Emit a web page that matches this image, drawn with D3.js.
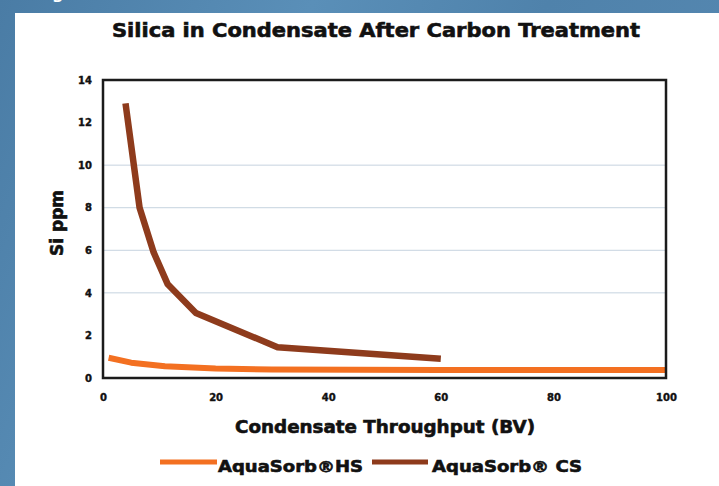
<!DOCTYPE html>
<html>
<head>
<meta charset="utf-8">
<script src="https://cdn.jsdelivr.net/npm/d3@7"></script>
<style>
  html, body { margin: 0; padding: 0; background: #fff; }
  svg { display: block; }
  text { font-family: "DejaVu Sans", sans-serif; font-weight: bold; fill: #111; }
  .heavy { stroke: #111; stroke-width: 0.6px; }
</style>
</head>
<body>
<svg id="chart" width="719" height="486"></svg>
<script>
// data
const hsX = [1, 5, 11, 20, 30, 60, 100];
const hsY = [0.95, 0.72, 0.55, 0.45, 0.40, 0.38, 0.38];
const csX = [4, 6.5, 9, 11.5, 16.5, 31, 60];
const csY = [12.9, 8.0, 5.9, 4.4, 3.05, 1.45, 0.9];
const xTicks = [0, 20, 40, 60, 80, 100];
const yTicks = [0, 2, 4, 6, 8, 10, 12, 14];
const gridTicks = [4, 6, 8, 10];
const seriesNames = ['AquaSorb®HS', 'AquaSorb® CS'];

const svg = d3.select('#chart');
const width = +svg.attr('width');
const height = +svg.attr('height');

// blue page background with a white panel
const defs = svg.append('defs');
const grad = defs.append('linearGradient').attr('id', 'bg')
  .attr('x1', 0).attr('y1', 0).attr('x2', 1).attr('y2', 0.3);
grad.append('stop').attr('offset', '0%').attr('stop-color', '#4a7ca5');
grad.append('stop').attr('offset', '40%').attr('stop-color', '#5a8fb8');
grad.append('stop').attr('offset', '70%').attr('stop-color', '#4f82ab');
grad.append('stop').attr('offset', '100%').attr('stop-color', '#5587b0');
svg.append('rect').attr('width', width).attr('height', height).attr('fill', 'url(#bg)');
svg.append('text').attr('x', 52).attr('y', -1).style('fill', '#fff')
  .style('font-size', '16px').text('g');
svg.append('rect').attr('x', 15).attr('y', 13)
  .attr('width', width - 15).attr('height', height - 13).attr('fill', '#fff');

const margin = { top: 80, left: 103, right: 53, bottom: 108 };
const innerWidth = width - margin.left - margin.right;
const innerHeight = height - margin.top - margin.bottom;

const xScale = d3.scaleLinear().domain([0, 100]).range([0, innerWidth]);
const yScale = d3.scaleLinear().domain([0, 14]).range([innerHeight, 0]);

const g = svg.append('g').attr('transform', `translate(${margin.left}, ${margin.top})`);

// gridlines
g.selectAll('.grid').data(gridTicks).enter().append('line')
  .attr('x1', 0).attr('x2', innerWidth)
  .attr('y1', d => yScale(d)).attr('y2', d => yScale(d))
  .attr('stroke', '#c6d3df').attr('stroke-width', 1);

const xAxisG = g.append('g')
  .attr('transform', `translate(0, ${innerHeight})`)
  .call(d3.axisBottom(xScale).tickValues(xTicks).tickSize(0).tickPadding(16));
xAxisG.select('.domain').remove();
xAxisG.selectAll('text').attr('class', 'heavy')
  .style('font-size', '10px').style('fill', '#111').style('stroke-width', '0.4px');

const yAxisG = g.append('g')
  .call(d3.axisLeft(yScale).tickValues(yTicks).tickSize(0).tickPadding(11));
yAxisG.select('.domain').remove();
yAxisG.selectAll('text').attr('class', 'heavy')
  .style('font-size', '10px').style('fill', '#111').style('stroke-width', '0.4px');

const line = d3.line().x(d => xScale(d[0])).y(d => yScale(d[1]));
const hsData = d3.zip(hsX, hsY);
const csData = d3.zip(csX, csY);
const colors = ['#f37021', '#8e3b1c'];

g.append('path').datum(hsData).attr('d', line)
  .attr('fill', 'none').attr('stroke', colors[0]).attr('stroke-width', 6)
  .attr('stroke-linejoin', 'round');
g.append('path').datum(csData).attr('d', line)
  .attr('fill', 'none').attr('stroke', colors[1]).attr('stroke-width', 6.5)
  .attr('stroke-linejoin', 'round');

// frame
g.append('rect').attr('width', innerWidth).attr('height', innerHeight)
  .attr('fill', 'none').attr('stroke', '#1b1b1b').attr('stroke-width', 2.5);

// titles
svg.append('text').attr('class', 'heavy').attr('x', 112).attr('y', 37)
  .attr('textLength', 528).attr('lengthAdjust', 'spacingAndGlyphs')
  .style('font-size', '19px').text('Silica in Condensate After Carbon Treatment');

svg.append('text').attr('class', 'heavy').attr('x', 235).attr('y', 433)
  .attr('textLength', 300).attr('lengthAdjust', 'spacingAndGlyphs')
  .style('font-size', '17.5px').text('Condensate Throughput (BV)');

svg.append('text').attr('class', 'heavy').attr('transform', 'translate(63, 223) rotate(-90)')
  .attr('text-anchor', 'middle')
  .style('font-size', '17px').text('Si ppm');

// legend
const legendItems = [
  { name: seriesNames[0], color: colors[0], x1: 160, x2: 217, tx: 218, tw: 145 },
  { name: seriesNames[1], color: colors[1], x1: 372, x2: 428, tx: 432, tw: 150 }
];
const legend = svg.append('g');
legend.selectAll('line').data(legendItems).enter().append('line')
  .attr('x1', d => d.x1).attr('x2', d => d.x2)
  .attr('y1', 462).attr('y2', 462)
  .attr('stroke', d => d.color).attr('stroke-width', 5);
legend.selectAll('text').data(legendItems).enter().append('text')
  .attr('class', 'heavy')
  .attr('x', d => d.tx).attr('y', 472)
  .attr('textLength', d => d.tw).attr('lengthAdjust', 'spacingAndGlyphs')
  .style('font-size', '16px').text(d => d.name);
</script>
</body>
</html>
